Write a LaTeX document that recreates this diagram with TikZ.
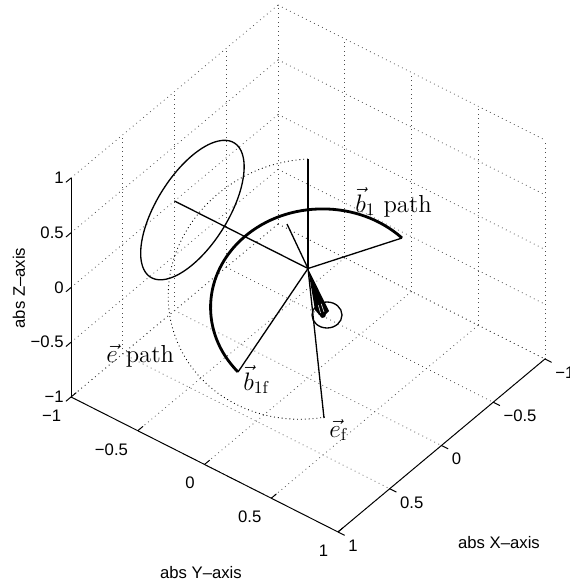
\documentclass[tikz,border=0pt]{standalone}
\usepackage{fontspec}
\newfontfamily\axisfont{Liberation Sans}
\usepackage{tikz}

\begin{document}
\begin{tikzpicture}[
  x=0.02cm, y=-0.02cm,
  gridline/.style={black!70, line width=0.45pt, dash pattern=on 0.45pt off 2.1pt},
  pathdots/.style={black, line width=0.5pt, dash pattern=on 0.5pt off 1.7pt},
  axisline/.style={black, line width=0.55pt},
  vecline/.style={black, line width=0.75pt},
  tracepath/.style={black, line width=1.6pt},
  ticklabel/.style={font=\axisfont\fontsize{9.5}{11}\selectfont, inner sep=0pt},
  axistitle/.style={font=\axisfont\fontsize{9.5}{11}\selectfont, inner sep=0pt},
  vlabel/.style={font=\fontsize{14}{17}\selectfont, inner sep=0pt},
]
\useasboundingbox (0,0) rectangle (569,585);

% box, grid and axes in data coordinates
\begin{scope}[shift={(308,268.5)}, x={(-2.07cm,-1.73cm)}, y={(2.67cm,-1.35cm)}, z={(0cm,2.19cm)}]
  \foreach \t in {-1,-0.5,0,0.5,1}{
    \draw[gridline] (\t,-1,-1) -- (\t,-1,1);
    \draw[gridline] (1,-1,\t) -- (-1,-1,\t);
    \draw[gridline] (-1,\t,-1) -- (-1,\t,1);
    \draw[gridline] (-1,-1,\t) -- (-1,1,\t);
    \draw[gridline] (\t,-1,-1) -- (\t,1,-1);
    \draw[gridline] (1,\t,-1) -- (-1,\t,-1);
  }
  \draw[axisline] (1,-1,-1) -- (1,-1,1);
  \draw[axisline] (1,-1,-1) -- (1,1,-1);
  \draw[axisline] (1,1,-1) -- (-1,1,-1);
  \foreach \t/\lab [count=\i] in {-1/{−1},-0.5/{−0.5},0/0,0.5/0.5,1/1}{
    \draw[axisline] (1,-1,\t) -- ++(0.05,0,0);
    \draw[axisline] (1,\t,-1) -- ++(-0.05,0,0);
    \draw[axisline] (\t,1,-1) -- ++(0,0.05,0);
    \node[ticklabel, anchor=east, xshift=-0.14cm] (zl\i) at (1,-1,\t) {\lab};
    \node[ticklabel, anchor=north east, xshift=-0.19cm, yshift=-0.25cm] (yl\i) at (1,\t,-1) {\lab};
    \node[ticklabel, anchor=north west, xshift=0.2cm, yshift=-0.15cm] (xl\i) at (\t,1,-1) {\lab};
  }

  \coordinate (O) at (0,0,0);
  \coordinate (ez) at (0,0,1);
  \coordinate (ny) at (0,-1,0);
  % cone circle round -y
  \draw[vecline] plot[domain=0:360, samples=73, smooth] ({0.5*cos(\x)}, -0.866, {0.5*sin(\x)});
\end{scope}

\coordinate (ax) at (287,224);
\coordinate (b1s) at (402,238);
\coordinate (b1f) at (238,372);
\coordinate (ef) at (324,418);
\coordinate (sc) at (327,315);

% e path
\begin{scope}[shift={(305.3,290.1)}, rotate=19.4]
  \draw[pathdots] (ez) arc[start angle=71.8, end angle=259.8, x radius=2.808cm, y radius=2.578cm];
\end{scope}

% b1 path
\draw[tracepath] (b1s) arc[start angle=44.8, end angle=220.9, x radius=2.24cm, y radius=1.97cm];

\draw[vecline] (O) -- (ez);
\draw[vecline] (O) -- (ny);
\draw[vecline] (O) -- (ax);
\draw[vecline] (O) -- (b1s);
\draw[vecline] (O) -- (b1f);
\draw[vecline] (O) -- (ef);

% final cone
\fill (O) -- (315,310) -- (322,318) -- (329,311) -- cycle;
\draw[white, line width=0.3pt] (318,304) -- (320.5,313);
\draw[white, line width=0.3pt] (321,303) -- (324,312);
\fill (323,315) circle (2.8);
\draw[vecline] (sc) ellipse [x radius=0.3cm, y radius=0.26cm];

\node[vlabel, anchor=base west] (b1lab) at (355,212) {$\vec{b}_1$ path};
\node[vlabel, anchor=base west] (elab) at (106,362) {$\vec{e}$ path};
\node[vlabel, anchor=base west] (b1flab) at (243,390) {$\vec{b}_{1\mathrm{f}}$};
\node[vlabel, anchor=base west] (eflab) at (329,437) {$\vec{e}_{\mathrm{f}}$};

\node[axistitle] (xtitle) at (499,543) {abs X–axis};
\node[axistitle] (ytitle) at (201,573) {abs Y–axis};
\node[axistitle, rotate=90] (ztitle) at (19,288) {abs Z–axis};
\end{tikzpicture}
\end{document}
